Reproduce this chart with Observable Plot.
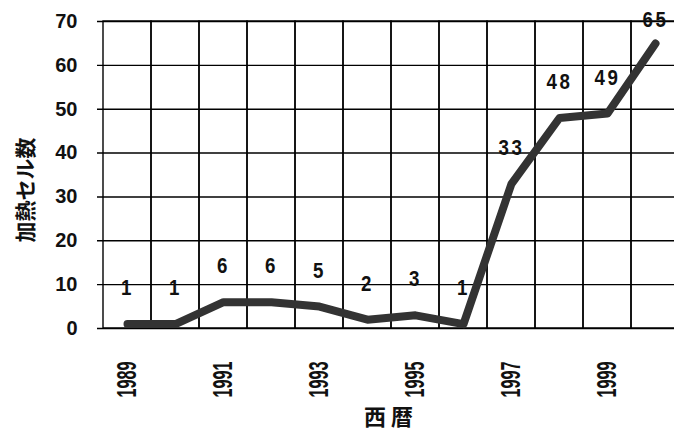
<!DOCTYPE html>
<html>
<head>
<meta charset="utf-8">
<script src="https://cdn.jsdelivr.net/npm/d3@7"></script>
<script src="https://cdn.jsdelivr.net/npm/@observablehq/plot@0.6"></script>
<style>
  body { margin: 0; background: #fff; overflow: hidden; }
</style>
</head>
<body>
<div id="chart"></div>
<script>
// Heated cells per year
const years = [1989, 1990, 1991, 1992, 1993, 1994, 1995, 1996, 1997, 1998, 1999, 2000];
const heatedCells = [1, 1, 6, 6, 5, 2, 3, 1, 33, 48, 49, 65];
const yTicks = [0, 10, 20, 30, 40, 50, 60, 70];
const xTickYears = [1989, 1991, 1993, 1995, 1997, 1999];
const yLabel = "加熱セル数";
const xLabel = "西暦";

const data = years.map((year, i) => ({year, value: heatedCells[i]}));

const numFont = "'Liberation Sans', Arial, sans-serif";
const cjkFont = "'Noto Sans CJK JP', sans-serif";

const chart = Plot.plot({
  width: 674,
  height: 432,
  marginLeft: 97,
  marginTop: 21,
  marginBottom: 104,
  marginRight: -10,
  style: {background: "#fff", fontFamily: numFont, color: "#111"},
  x: {type: "band", domain: years, padding: 0},
  y: {domain: [0, 70]},
  marks: [
    Plot.gridY(yTicks, {stroke: "#000", strokeOpacity: 1, strokeWidth: 1.4}),
    Plot.cell(years, {x: d => d, fill: "none", stroke: "#000", strokeWidth: 1.4, inset: 0}),
    Plot.axisY(yTicks, {
      tickSize: 0, tickPadding: 20, fontSize: 20, fontWeight: "bold",
      label: null, fill: "#111"
    }),
    Plot.axisX(xTickYears, {
      tickSize: 0, tickRotate: -90, tickPadding: 33, fontSize: 27,
      fontWeight: "bold", label: null,
      tickFormat: d => String(d), fill: "#111"
    }),
    Plot.line(data, {
      x: "year", y: "value", stroke: "#333", strokeWidth: 8,
      strokeLinecap: "round", strokeLinejoin: "round"
    }),
    Plot.text(data.filter(d => d.value < 60), {
      x: "year", y: "value", text: d => String(d.value), dy: -36,
      fontSize: 22, fontWeight: "bold", fill: "#111"
    }),
    Plot.text(data.filter(d => d.value >= 60), {
      x: "year", y: "value", text: d => String(d.value), dy: -23,
      fontSize: 22, fontWeight: "bold", fill: "#111"
    }),
    Plot.text([yLabel], {
      frameAnchor: "left", rotate: -90, dx: -71, dy: 15, lineAnchor: "middle",
      textAnchor: "middle", fontSize: 21, fontWeight: "bold", fontFamily: cjkFont, fill: "#111"
    }),
    Plot.text([xLabel], {
      frameAnchor: "bottom", dy: 89, lineAnchor: "middle", textAnchor: "middle",
      fontSize: 22, fontWeight: "bold", fontFamily: cjkFont, fill: "#111"
    })
  ]
});

// Condense the numeric labels horizontally (along the text direction)
function condense(selector, k) {
  d3.select(chart).selectAll(selector).each(function() {
    const t = this.getAttribute("transform");
    if (t) this.setAttribute("transform", t + ` scale(${k},1)`);
  });
}
condense("g[aria-label='x-axis tick label'] text", 0.6);
d3.select(chart).selectAll("g[aria-label='text'] text").each(function() {
  if (/^\d+$/.test(this.textContent)) {
    this.setAttribute("letter-spacing", 3);
    const t = this.getAttribute("transform");
    if (t) this.setAttribute("transform", t + " scale(0.85,1)");
  } else if (this.textContent === xLabel) {
    this.setAttribute("letter-spacing", 5);
  }
});

document.getElementById("chart").append(chart);
</script>
</body>
</html>
